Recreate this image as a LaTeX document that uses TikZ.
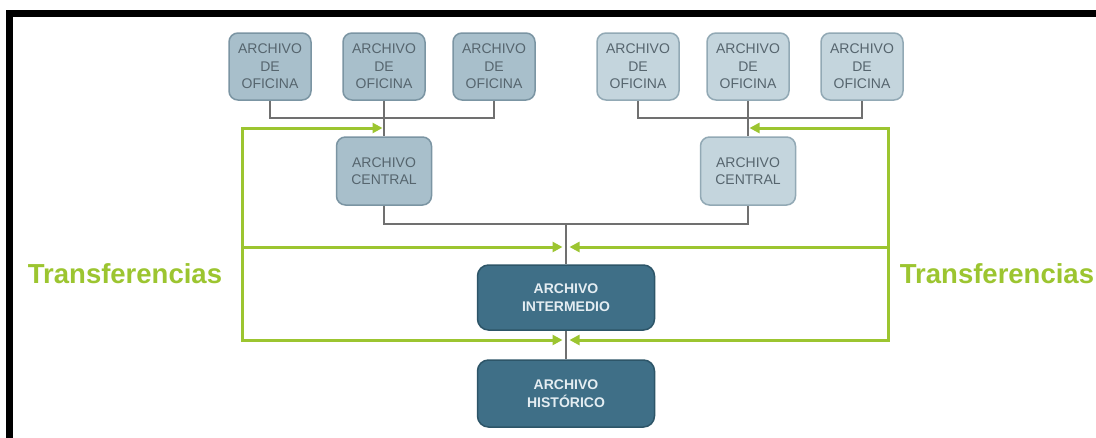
\documentclass[tikz,border=0pt]{standalone}
\usepackage{fontspec}
\setmainfont{Liberation Sans}
\usetikzlibrary{arrows.meta}
\definecolor{offillA}{HTML}{A8BFCB}
\definecolor{offillB}{HTML}{C4D5DD}
\definecolor{ofborderA}{HTML}{7B95A3}
\definecolor{ofborderB}{HTML}{92A9B5}
\definecolor{oftext}{HTML}{56656E}
\definecolor{darkfill}{HTML}{3F6F87}
\definecolor{darkborder}{HTML}{2D5568}
\definecolor{darktext}{HTML}{E4EDF2}
\definecolor{connc}{HTML}{707070}
\definecolor{trgreen}{HTML}{9CC530}
\tikzset{
  trtip/.tip={Triangle[length=10pt,width=10pt]},
  lightbox/.style={draw=ofborderA, fill=offillA, rounded corners=9pt, line width=1.5pt,
    text=oftext, font=\fontsize{14}{17.5}\selectfont, align=center, inner sep=0pt},
  lightboxB/.style={lightbox, draw=ofborderB, fill=offillB},
  officebox/.style={minimum width=82pt, minimum height=67pt},
  centralbox/.style={minimum width=95pt, minimum height=68pt},
  darkbox/.style={draw=darkborder, fill=darkfill, rounded corners=11pt, line width=1.5pt,
    text=darktext, font=\bfseries\fontsize{14}{18}\selectfont, align=center, inner sep=0pt,
    minimum width=177pt},
  conn/.style={draw=connc, line width=2.5pt},
  trline/.style={draw=trgreen, line width=3pt, line join=miter},
  trlabel/.style={text=trgreen, font=\bfseries\fontsize{27.5}{30}\selectfont, inner sep=0pt},
}
\begin{document}
\begin{tikzpicture}[x=1pt,y=-1pt]
\useasboundingbox (0,0) rectangle (1096,437);
\fill[white] (0,0) rectangle (1096,437);
% frame
\draw[line width=7.5pt, line join=miter] (1100,13.25) -- (9.5,13.25) -- (9.5,440);

% office archives
\node[lightbox, officebox] (o1) at (270,66.5) {ARCHIVO\\DE\\OFICINA};
\node[lightbox, officebox] (o2) at (384,66.5) {ARCHIVO\\DE\\OFICINA};
\node[lightbox, officebox] (o3) at (494,66.5) {ARCHIVO\\DE\\OFICINA};
\node[lightboxB, officebox] (o4) at (638,66.5) {ARCHIVO\\DE\\OFICINA};
\node[lightboxB, officebox] (o5) at (748,66.5) {ARCHIVO\\DE\\OFICINA};
\node[lightboxB, officebox] (o6) at (862,66.5) {ARCHIVO\\DE\\OFICINA};

% central archives
\node[lightbox, centralbox] (c1) at (384,171) {ARCHIVO\\CENTRAL};
\node[lightboxB, centralbox] (c2) at (748,171) {ARCHIVO\\CENTRAL};

% intermediate and historical
\node[darkbox, minimum height=65pt] (im) at (566,297.5) {ARCHIVO\\INTERMEDIO};
\node[darkbox, minimum height=67pt] (hi) at (566,393.5) {ARCHIVO\\HISTÓRICO};

% junctions
\coordinate (jl) at (384,118);
\coordinate (jr) at (748,118);
\coordinate (jm) at (566,224);

% gray connectors
\draw[conn] (o1.south) |- (jl) -| (o3.south);
\draw[conn] (o2.south) -- (c1.north);
\draw[conn] (o4.south) |- (jr) -| (o6.south);
\draw[conn] (o5.south) -- (c2.north);
\draw[conn] (c1.south) |- (jm) -| (c2.south);
\draw[conn] (jm) -- (im.north);
\draw[conn] (im.south) -- (hi.north);

% green transfers
\coordinate (gl1) at (242,128);
\coordinate (gl2) at (242,247);
\coordinate (gl3) at (242,340);
\coordinate (gr1) at (888,128);
\coordinate (gr2) at (888,247);
\coordinate (gr3) at (888,340);
\draw[trline, trtip-trtip, shorten <=1.5pt, shorten >=3.5pt]
  (c1.north |- gl1) -- (gl1) -- (gl3) -- (jm |- gl3);
\draw[trline, trtip-trtip, shorten <=1.5pt, shorten >=3.5pt]
  (c2.north |- gr1) -- (gr1) -- (gr3) -- (jm |- gr3);
\draw[trline, -trtip, shorten >=3.5pt] (gl2) -- (jm |- gl2);
\draw[trline, -trtip, shorten >=3.5pt] (gr2) -- (jm |- gr2);

% labels
\node[trlabel] (tl) at (125,274) {Transferencias};
\node[trlabel] (tr) at (997,274) {Transferencias};
\end{tikzpicture}
\end{document}
